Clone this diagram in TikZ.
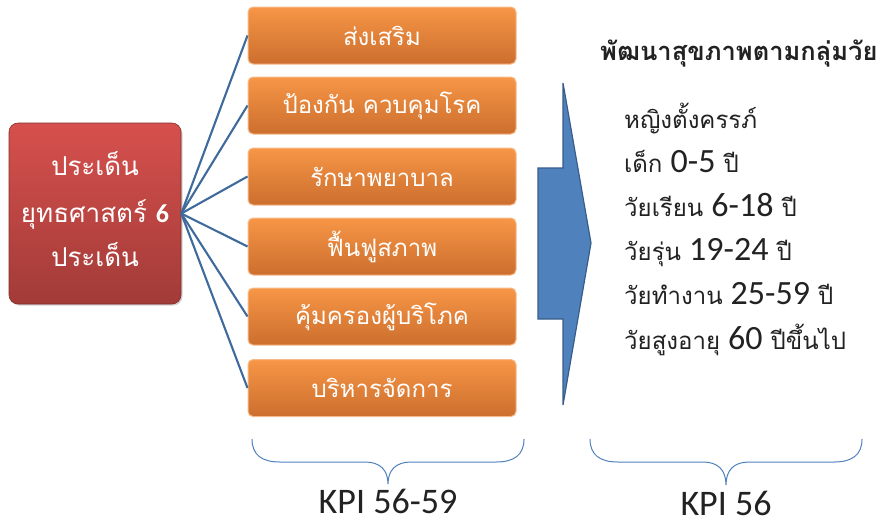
\documentclass[tikz,border=0pt]{standalone}
\usepackage{fontspec}
\setmainfont{Carlito}
\newfontfamily\thai[Script=Thai]{Loma}
\usetikzlibrary{shadows}
\definecolor{redtop}{HTML}{D6504D}
\definecolor{redbot}{HTML}{A23B38}
\definecolor{orgtop}{HTML}{F79646}
\definecolor{orgbot}{HTML}{CC6E2E}
\definecolor{orgedge}{HTML}{F6BB8C}
\definecolor{linkblue}{HTML}{3E6A9C}
\definecolor{arrowfill}{HTML}{4F81BD}
\definecolor{arrowedge}{HTML}{385D8A}
\definecolor{bracecol}{HTML}{4F81BD}
\definecolor{txt}{HTML}{222222}
\begin{document}
\begin{tikzpicture}[x=1pt,y=-1pt,
  redbox/.style={rounded corners=9pt, top color=redtop, bottom color=redbot, draw=redbot!80!black, line width=0.6pt,
    minimum width=172pt, minimum height=181pt, drop shadow={shadow xshift=1.5pt, shadow yshift=-1.5pt, opacity=0.35}},
  orgbox/.style={rounded corners=5pt, top color=orgtop, bottom color=orgbot, draw=orgedge, line width=1pt,
    minimum width=268pt, minimum height=57pt, text=white, font=\thai\fontsize{24}{28}\selectfont, inner sep=0pt},
  link/.style={draw=linkblue, line width=2.1pt},
  wtxt/.style={text=white, font=\thai\fontsize{26}{30}\selectfont, inner sep=0pt},
  listtxt/.style={anchor=base west, text=txt, font=\thai\fontsize{24}{28}\selectfont, inner sep=0pt},
  brace/.style={draw=bracecol, line width=1pt},
  kpi/.style={text=txt, font=\fontsize{36}{40}\selectfont, inner sep=0pt, anchor=base}
]
\useasboundingbox (0,0) rectangle (882,523);
\fill[white] (0,0) rectangle (882,523);

% main box
\node[redbox] (main) at (95,213.5) {};
\node[wtxt, anchor=base] (m1) at (95,175) {ประเด็น};
\node[wtxt, anchor=base] (m2) at (95,222) {ยุทธศาสตร์ \fontspec{Carlito}\bfseries 6};
\node[wtxt, anchor=base] (m3) at (95,266) {ประเด็น};

% orange boxes
\node[orgbox] (b1) at (382,35.5) {ส่งเสริม};
\node[orgbox] (b2) at (382,105.5) {ป้องกัน ควบคุมโรค};
\node[orgbox] (b3) at (382,176.5) {รักษาพยาบาล};
\node[orgbox] (b4) at (382,246.5) {ฟื้นฟูสภาพ};
\node[orgbox] (b5) at (382,316.5) {คุ้มครองผู้บริโภค};
\node[orgbox] (b6) at (382,388) {บริหารจัดการ};

\foreach \b in {b1,b2,b3,b4,b5,b6} \draw[link] (main.east) -- (\b.west);

% big arrow
\draw[fill=arrowfill, draw=arrowedge, line width=1.2pt, line join=miter]
  (538,168) -- (563,168) -- (563,83) -- (591,243) -- (563,405) -- (563,319) -- (538,319) -- cycle;

% title and list
\node[anchor=base west, text=txt, font=\thai\bfseries\fontsize{25.5}{28}\selectfont, inner sep=0pt] (title) at (600,60) {พัฒนาสุขภาพตามกลุ่มวัย};
\newcommand\dg[1]{{\fontspec{Carlito}\fontsize{34}{36}\selectfont #1}}
\node[listtxt] (l1) at (624,128) {หญิงตั้งครรภ์};
\node[listtxt] (l2) at (624,172) {เด็ก \dg{0-5} ปี};
\node[listtxt] (l3) at (624,216) {วัยเรียน \dg{6-18} ปี};
\node[listtxt] (l4) at (624,260) {วัยรุ่น \dg{19-24} ปี};
\node[listtxt] (l5) at (624,304) {วัยทำงาน \dg{25-59} ปี};
\node[listtxt] (l6) at (624,349) {วัยสูงอายุ \dg{60} ปีขึ้นไป};

% braces
\coordinate (bl1) at (252,439);
\coordinate (bt1) at (388,484);
\coordinate (br1) at (524,439);
\draw[brace] (bl1) .. controls (252,455) and (262,462) .. (280,462) -- (365,462)
  .. controls (380,462) and (388,470) .. (bt1)
  .. controls (388,470) and (396,462) .. (411,462) -- (496,462)
  .. controls (514,462) and (524,455) .. (br1);
\node[kpi] (k1) at (388,513) {KPI 56-59};

\coordinate (bl2) at (590,439);
\coordinate (bt2) at (726,485);
\coordinate (br2) at (862,439);
\draw[brace] (bl2) .. controls (590,455) and (600,462) .. (618,462) -- (703,462)
  .. controls (718,462) and (726,470) .. (bt2)
  .. controls (726,470) and (734,462) .. (749,462) -- (834,462)
  .. controls (852,462) and (862,455) .. (br2);
\node[kpi] (k2) at (726,515.5) {KPI 56};
\end{tikzpicture}
\end{document}
